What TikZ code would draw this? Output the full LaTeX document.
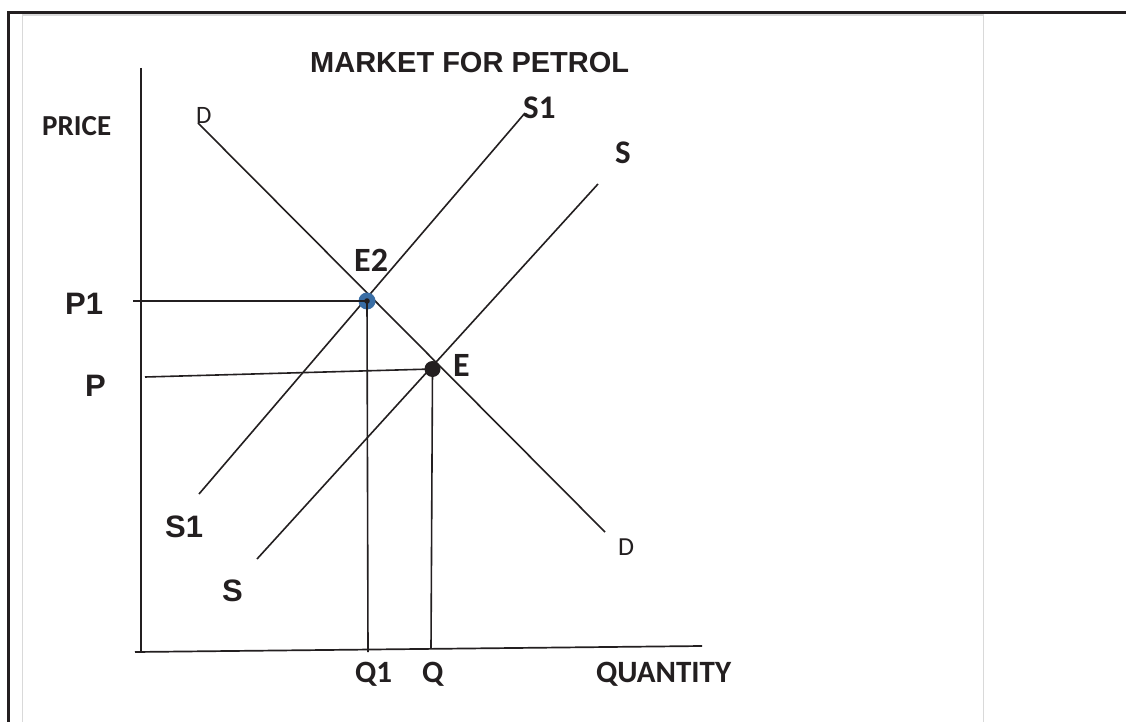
\documentclass[tikz,border=0pt]{standalone}
\usepackage{fontspec}
\setmainfont{Carlito}
\newfontfamily\arial{Liberation Sans}
\definecolor{ink}{HTML}{231F20}
\definecolor{frameg}{HTML}{D9D9D9}
\definecolor{dotblue}{HTML}{3A6EA5}
\begin{document}
\begin{tikzpicture}[x=1pt,y=-1pt,
  curve/.style={draw=ink,line width=1.6pt},
  axis/.style={draw=ink,line width=1.7pt},
  guide/.style={draw=ink,line width=1.6pt},
  lbl/.style={inner sep=0pt,anchor=base west,text=ink},
  cal/.style={lbl,font=\bfseries\fontsize{#1}{#1}\selectfont},
  calr/.style={lbl,font=\fontsize{#1}{#1}\selectfont},
  ari/.style={lbl,font=\arial\bfseries\fontsize{#1}{#1}\selectfont},
  eqdot/.style={circle,inner sep=0pt,minimum size=#1}]
\useasboundingbox (0,0) rectangle (1126,722);
\fill[white] (0,0) rectangle (1126,722);
% frame
\draw[frameg,line width=1.8pt] (22.5,722) -- (22.5,15) -- (983.5,15) -- (983.5,722);
\draw[ink,line width=3.2pt] (8.5,722) -- (8.5,12.5) -- (1126,12.5);
% axes
\coordinate (yt) at (141,68);
\coordinate (o) at (141,652);
\coordinate (xl) at (135,652);
\coordinate (xr) at (702,646);
\draw[axis] (yt) -- (o);
\draw[axis] (xl) -- (xr);
% curve endpoints
\coordinate (d1) at (198,123);
\coordinate (d2) at (605,532);
\coordinate (s1a) at (199,494);
\coordinate (s1b) at (525,113);
\coordinate (sa) at (257,559);
\coordinate (sb) at (598,184);
\draw[curve] (d1) -- (d2);
\draw[curve] (s1a) -- (s1b);
\draw[curve] (sa) -- (sb);
% equilibrium points
\node[eqdot=17pt,fill=dotblue] (e2) at (367,301) {};
\node[eqdot=16pt,fill=ink] (e) at (432.5,369) {};
\fill[ink] (e2.center) circle (2.8);
\coordinate (p1l) at (133,301);
\coordinate (pl) at (145,377);
\coordinate (q1b) at (368,652);
\coordinate (qb) at (431,648);
\draw[guide] (p1l) -- (e2.center);
\draw[guide] (pl) -- (e.center);
\draw[guide] (e2.center) -- (q1b);
\draw[guide] (e.center) -- (qb);
% labels
\node[ari=29] (title) at (310,73) {MARKET FOR PETROL};
\node[cal=29] (price) at (42,136) {PRICE};
\node[calr=25] (dtop) at (196,124) {D};
\node[cal=33] (s1top) at (523,119) {S1};
\node[cal=33] (stop) at (615,164) {S};
\node[cal=34] (e2l) at (354,271) {E2};
\node[ari=31] (p1) at (65,314) {P1};
\node[ari=31] (p) at (85,396) {P};
\node[cal=34] (el) at (453,376) {E};
\node[ari=31] (s1bot) at (165,537) {S1};
\node[ari=31] (sbot) at (222,601) {S};
\node[calr=26] (dbot) at (618,555) {D};
\node[cal=31] (q1) at (355,682) {Q1};
\node[cal=31] (q) at (422,682) {Q};
\node[cal=31] (qty) at (596,682) {QUANTITY};
\end{tikzpicture}
\end{document}
